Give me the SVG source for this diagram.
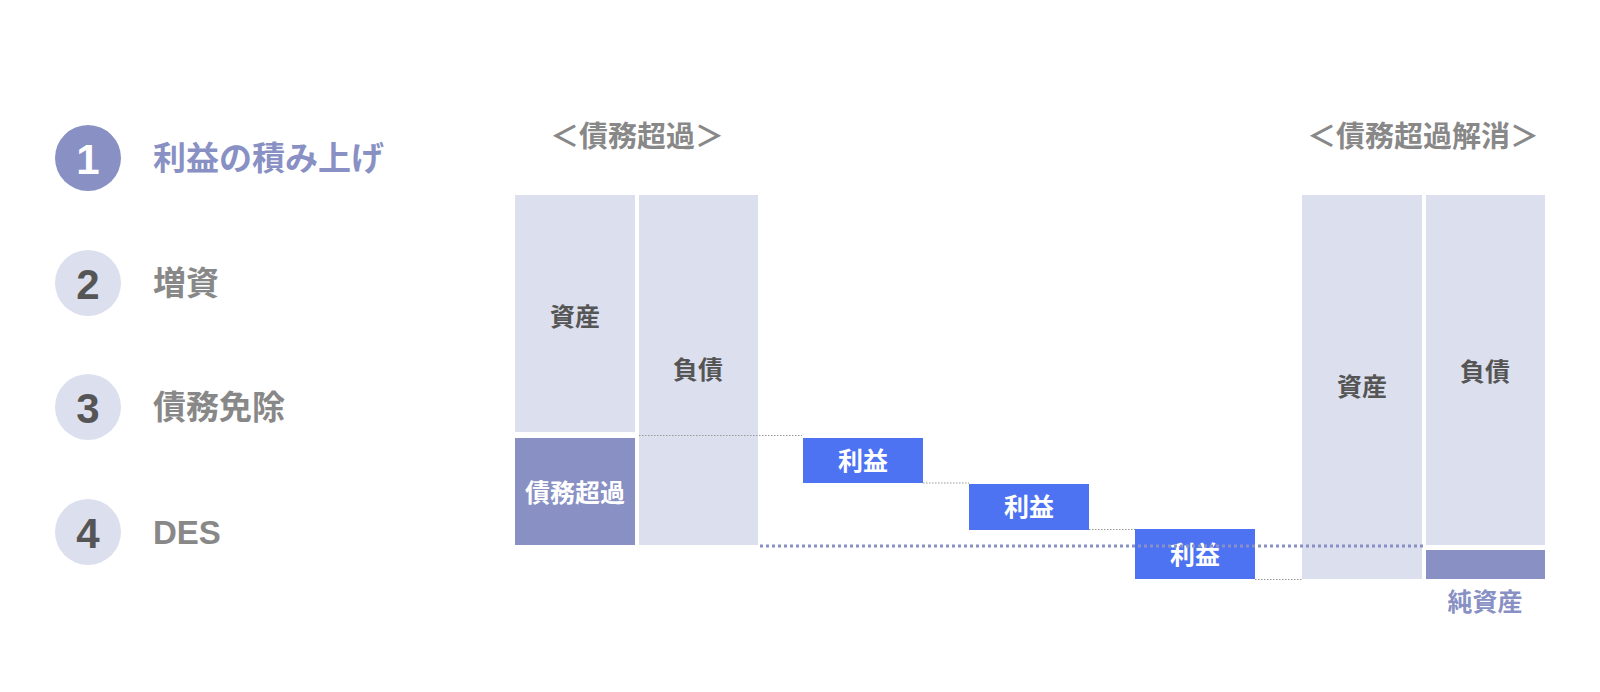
<svg xmlns="http://www.w3.org/2000/svg" width="1600" height="692" viewBox="0 0 1600 692">
<style>
text{font-family:"Liberation Sans","Noto Sans CJK JP",sans-serif;font-weight:bold;dominant-baseline:central;text-anchor:middle}
.light{fill:#DCDFEE}
.purple{fill:#8890C4}
.blue{fill:#4E73F2}
.num{font-size:42px;fill:#555}
.item{font-size:33px;fill:#888;text-anchor:start}
.title{font-size:29px;fill:#888}
.lbl{font-size:25px;fill:#555}
.wlbl{font-size:25px;fill:#fff}
.thin{stroke:#999;stroke-width:1.2;stroke-dasharray:1.5 1.5;fill:none}
.thick{stroke:#8890C4;stroke-width:3;stroke-dasharray:3 3;fill:none}
</style>
<rect width="1600" height="692" fill="#fff"/>
<g id="list">
<g id="item1"><circle cx="88" cy="158" r="33" class="purple"/><text x="88" y="159" class="num" style="fill:#fff">1</text><text x="153" y="158" class="item" style="fill:#8890C4">利益の積み上げ</text></g>
<g id="item2"><circle cx="88" cy="283" r="33" class="light"/><text x="88" y="284" class="num">2</text><text x="153" y="283" class="item">増資</text></g>
<g id="item3"><circle cx="88" cy="407" r="33" class="light"/><text x="88" y="408" class="num">3</text><text x="153" y="407" class="item">債務免除</text></g>
<g id="item4"><circle cx="88" cy="532" r="33" class="light"/><text x="88" y="533" class="num">4</text><text x="153" y="532" class="item">DES</text></g>
</g>
<g id="title-left"><text x="637" y="137" class="title">＜債務超過＞</text></g>
<g id="title-right"><text x="1423" y="137" class="title">＜債務超過解消＞</text></g>
<g id="left-assets"><rect x="515" y="195" width="120" height="237" class="light"/><text x="575" y="317" class="lbl">資産</text></g>
<g id="left-excess"><rect x="515" y="438" width="120" height="107" class="purple"/><text x="575" y="493" class="wlbl">債務超過</text></g>
<g id="left-liab"><rect x="639" y="195" width="119" height="350" class="light"/><text x="698" y="370" class="lbl">負債</text></g>
<g id="profit1"><rect x="803" y="438" width="120" height="45" class="blue"/><text x="863" y="461" class="wlbl">利益</text></g>
<g id="profit2"><rect x="969" y="484" width="120" height="46" class="blue"/><text x="1029" y="507" class="wlbl">利益</text></g>
<g id="profit3"><rect x="1135" y="529" width="120" height="50" class="blue"/><text x="1195" y="555" class="wlbl">利益</text></g>
<g id="right-assets"><rect x="1302" y="195" width="120" height="384" class="light"/><text x="1362" y="387" class="lbl">資産</text></g>
<g id="right-liab"><rect x="1426" y="195" width="119" height="350" class="light"/><text x="1485" y="372" class="lbl">負債</text></g>
<g id="right-equity"><rect x="1426" y="550" width="119" height="29" class="purple"/><text x="1485" y="602" class="lbl" style="fill:#8890C4">純資産</text></g>
<g id="connectors">
<line x1="639" y1="435.5" x2="802" y2="435.5" class="thin"/>
<line x1="923" y1="483" x2="969" y2="483" class="thin"/>
<line x1="1089" y1="529.5" x2="1135" y2="529.5" class="thin"/>
<line x1="1255" y1="579.5" x2="1302" y2="579.5" class="thin"/>
<line x1="760" y1="546" x2="1423" y2="546" class="thick"/>
</g>
</svg>
